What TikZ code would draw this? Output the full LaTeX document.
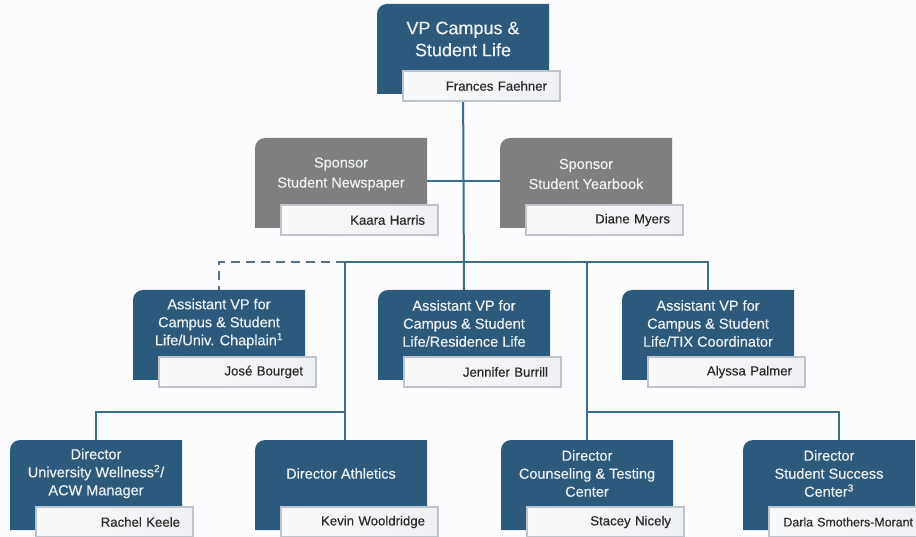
\documentclass[tikz,border=0pt]{standalone}
\usepackage{fontspec}
\setmainfont{Liberation Sans}
\newfontfamily\medfont[FakeBold=0.35]{Liberation Sans}
\pgfdeclarelayer{bg}
\pgfsetlayers{bg,main}
\definecolor{boxblue}{HTML}{2B5A7D}
\definecolor{boxgray}{HTML}{7F7F7F}
\definecolor{linkblue}{HTML}{3E6C8E}
\definecolor{dashgray}{HTML}{56738A}
\definecolor{namebd}{HTML}{BEC4CA}
\definecolor{nameleft}{HTML}{F8F9FA}
\definecolor{nameright}{HTML}{EEF0F3}
\definecolor{nametxt}{HTML}{2A2A2A}
\definecolor{boxtxt}{HTML}{EDF1F4}
\definecolor{pagebg}{HTML}{FCFCFE}
\newcommand\cardfill[2]{%
  \fill[#2] ([yshift=-23pt]#1.south west) -- ([yshift=-10pt]#1.north west)
    .. controls ([yshift=-4.5pt]#1.north west) and ([xshift=4.5pt]#1.north west) ..
    ([xshift=10pt]#1.north west) -- (#1.north east) -- ([yshift=-23pt]#1.south east) -- cycle;}
\tikzset{
  card/.style={minimum width=172pt, minimum height=67pt, inner sep=0pt, outer sep=0pt, anchor=north west},
  box label/.style={text=boxtxt, align=center, font=\medfont\fontsize{14.5}{18}\selectfont},
  sponsor label/.style={text=boxtxt, align=center, inner sep=0pt, font=\medfont\fontsize{14.5}{20}\selectfont},
  title label/.style={text=boxtxt, align=center, inner sep=0pt, font=\medfont\fontsize{18}{22}\selectfont},
  namebox/.style={draw=namebd, line width=1.3pt, left color=nameleft, right color=nameright,
    minimum width=157pt, minimum height=30pt, inner sep=0pt, outer sep=0pt, anchor=north west,
    text=nametxt, font=\medfont\fontsize{13.2}{15}\selectfont, text width=131pt, align=right},
  link/.style={draw=linkblue, line width=2pt},
  dash link/.style={draw=dashgray, line width=2.4pt, dash pattern=on 9pt off 6pt},
}
\begin{document}
\begin{tikzpicture}[x=1pt, y=-1pt]
\useasboundingbox (0,0) rectangle (916,537);
\begin{pgfonlayer}{bg}
  \fill[pagebg] (0,0) rectangle (916,537);
\end{pgfonlayer}

% cards (text region of each card)
\node[card] (vp) at (377,4) {};
\node[title label] (vpt) at ([yshift=-1.5pt]vp.center) {VP Campus \&\\Student Life};
\node[card] (sp1) at (255,138) {};
\node[sponsor label] (sp1t) at ([yshift=-2.5pt]sp1.center) {Sponsor\\Student Newspaper};
\node[card] (sp2) at (500,138) {};
\node[sponsor label] (sp2t) at ([yshift=-2.5pt]sp2.center) {Sponsor\\Student Yearbook};
\node[card, box label] (avp1) at (133,290) {Assistant VP for\\Campus \& Student\\Life/Univ. Chaplain\textsuperscript{1}};
\node[card, box label] (avp2) at (378,290) {Assistant VP for\\Campus \& Student\\Life/Residence Life};
\node[card, box label] (avp3) at (622,290) {Assistant VP for\\Campus \& Student\\Life/TIX Coordinator};
\node[card, box label] (d1) at (10,440) {Director\\University Wellness\textsuperscript{2}/\\ACW Manager};
\node[card, box label] (d2) at (255,440) {Director Athletics};
\node[card, box label] (d3) at (501,440) {Director\\Counseling \& Testing\\Center};
\node[card, box label] (d4) at (743,440) {Director\\Student Success\\Center\textsuperscript{3}};

% junctions
\coordinate (j1) at (345,262);
\coordinate (j2) at (587,262);
\coordinate (k1) at (345,412);
\coordinate (k2) at (587,412);
\coordinate (k3) at (839,412);

\begin{pgfonlayer}{bg}
  \draw[link] (vp.south) -- (avp2.north);
  \draw[link] ([yshift=-10pt]sp1.east) -- ([yshift=-10pt]sp2.west);
  \draw[dash link] (j1) -| (avp1.north);
  \draw[link] (j1) -- (j2) -| (avp3.north);
  \draw[link] (j1) -- (k1) -| (d1.north);
  \draw[link] (k1) -- (k1 |- d2.north);
  \draw[link] (j2) -- (k2 |- d3.north);
  \draw[link] (k2) -- (k3) -- (k3 |- d4.north);
  \cardfill{vp}{boxblue}
  \cardfill{sp1}{boxgray}
  \cardfill{sp2}{boxgray}
  \cardfill{avp1}{boxblue}
  \cardfill{avp2}{boxblue}
  \cardfill{avp3}{boxblue}
  \cardfill{d1}{boxblue}
  \cardfill{d2}{boxblue}
  \cardfill{d3}{boxblue}
  \cardfill{d4}{boxblue}
\end{pgfonlayer}

% name boxes
\node[namebox] (vpn) at ([xshift=26pt]vp.south west) {Frances Faehner};
\node[namebox] (sp1n) at ([xshift=26pt]sp1.south west) {Kaara Harris};
\node[namebox] (sp2n) at ([xshift=26pt]sp2.south west) {Diane Myers};
\node[namebox] (avp1n) at ([xshift=26pt]avp1.south west) {José Bourget};
\node[namebox] (avp2n) at ([xshift=26pt]avp2.south west) {Jennifer Burrill};
\node[namebox] (avp3n) at ([xshift=26pt]avp3.south west) {Alyssa Palmer};
\node[namebox] (d1n) at ([xshift=26pt]d1.south west) {Rachel Keele};
\node[namebox] (d2n) at ([xshift=26pt]d2.south west) {Kevin Wooldridge};
\node[namebox] (d3n) at ([xshift=26pt]d3.south west) {Stacey Nicely};
\node[namebox, font=\medfont\fontsize{12.4}{15}\selectfont] (d4n) at ([xshift=26pt]d4.south west) {\mbox{Darla Smothers-Morant}};
\end{tikzpicture}
\end{document}
